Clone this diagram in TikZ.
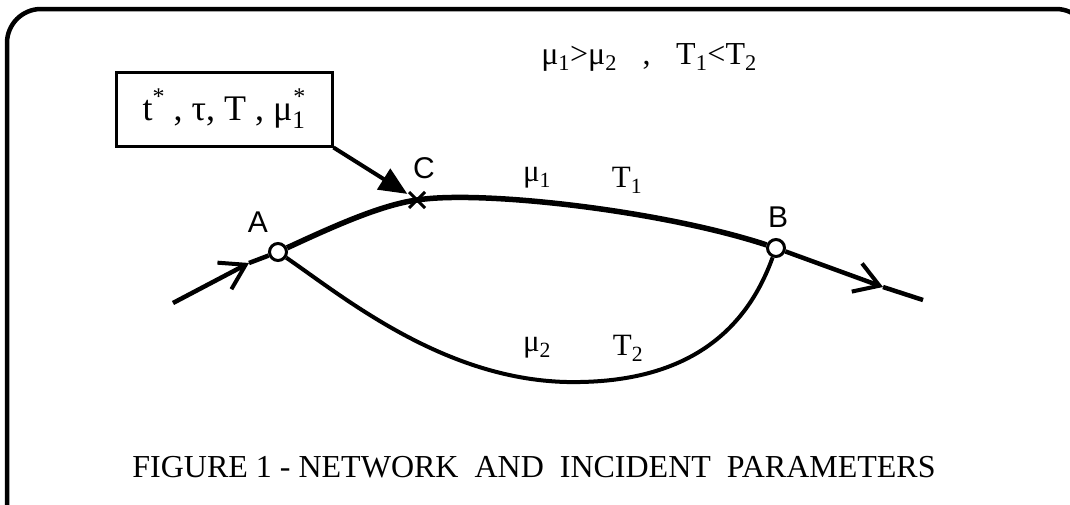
\documentclass[tikz,border=0pt]{standalone}
\usepackage{fontspec}
\setmainfont{Liberation Serif}
\setsansfont{Liberation Sans}
\usetikzlibrary{arrows.meta,shapes.misc}
\newcommand{\starup}{\raisebox{0.45em}{\fontsize{24}{24}\selectfont *}}

\begin{document}
\begin{tikzpicture}[x=1pt,y=-1pt,
  junction/.style={circle,draw,fill=white,line width=3pt,minimum size=17pt,inner sep=0pt},
  crossing/.style={cross out,draw,line width=3pt,minimum size=13pt,inner sep=0pt},
  ptlabel/.style={font=\sffamily\fontsize{30}{30}\selectfont,inner sep=0pt},
  linklabel/.style={font=\fontsize{31}{31}\selectfont,inner sep=0pt},
  flow/.style={line width=4.5pt},
  barb/.style={-{Straight Barb[length=24pt,width=30pt,line width=4pt]}},
  infobox/.style={draw,line width=3pt,minimum width=216pt,minimum height=74pt,
    font=\fontsize{36}{36}\selectfont}]
  \useasboundingbox (0,0) rectangle (1070,504);
  % frame
  \draw[line width=4.5pt,rounded corners=34pt] (7,530) -- (7,9) -- (1090,9) -- (1090,515) -- (1030,515);
  % nodes of the network
  \node[junction] (A) at (278,252) {};
  \node[junction] (B) at (776,248) {};
  \node[crossing] (C) at (417,200) {};
  \node[ptlabel] (labA) at (258,222) {A};
  \node[ptlabel] (labB) at (778,217) {B};
  \node[ptlabel] (labC) at (424,168) {C};
  \coordinate (in) at (173,303);
  \coordinate (inhead) at (249,263);
  \coordinate (out) at (923,300);
  \coordinate (outhead) at (883,287);
  % links
  \draw[line width=5.5pt] (A) .. controls (330,228) and (380,205) .. (C.center)
    .. controls (480,190) and (660,210) .. (B);
  \draw[line width=4pt] (A) .. controls (345,298) and (450,385) .. (580,382)
    .. controls (700,380) and (750,320) .. (B);
  \draw[flow,barb] (in) -- (inhead);
  \draw[flow] (inhead) -- (A);
  \draw[flow,barb] (B) -- (outhead);
  \draw[flow] (outhead) -- (out);
  % incident box
  \node[infobox] (params) at (224,109)
    {t\starup\ , τ, T , μ\textsubscript{1}\llap{\starup}};
  \draw[line width=4pt,-{Triangle[length=28pt,width=24pt]},shorten >=2pt] (params.south east) -- (C);
  % texts
  \node[linklabel] (mu1) at (537,178) {μ\textsubscript{1}};
  \node[linklabel] (T1) at (627,180) {T\textsubscript{1}};
  \node[linklabel] (mu2) at (537,348) {μ\textsubscript{2}};
  \node[linklabel] (T2) at (628,348) {T\textsubscript{2}};
  \node[linklabel,font=\fontsize{32}{32}\selectfont] (cond) at (649,57)
    {μ\textsubscript{1}>μ\textsubscript{2}\hspace{0.8em},\hspace{0.8em}T\textsubscript{1}<T\textsubscript{2}};
  \node[linklabel,font=\fontsize{32}{32}\selectfont] (caption) at (534,467)
    {FIGURE 1 - NETWORK\ \ AND\ \ INCIDENT\ \ PARAMETERS};
\end{tikzpicture}
\end{document}
